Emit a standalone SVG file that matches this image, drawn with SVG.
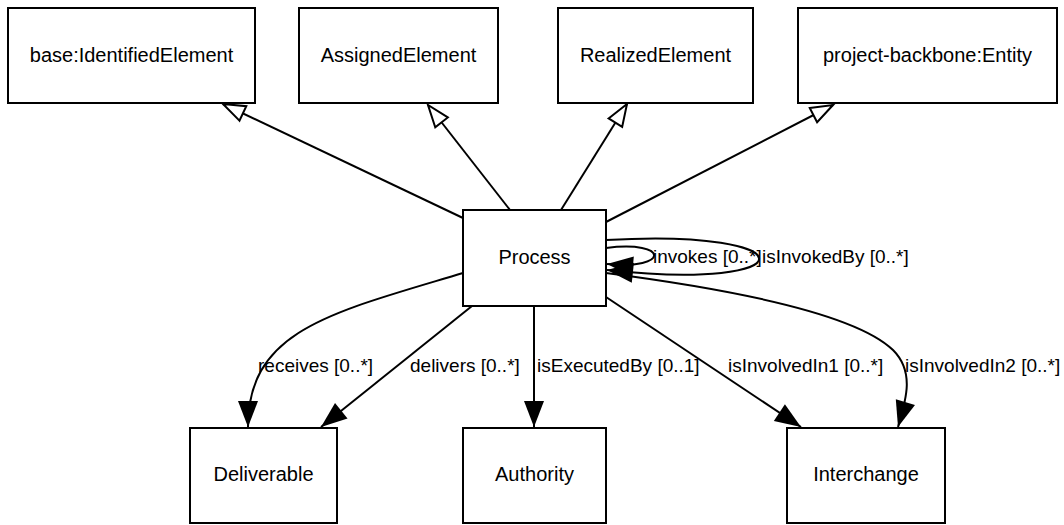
<svg xmlns="http://www.w3.org/2000/svg" width="1064" height="525" viewBox="0 0 1064 525">
<style>
.box{fill:#fff;stroke:#000;stroke-width:2}
.t{font-family:"Liberation Sans",Arial,sans-serif;font-size:19px;fill:#000}
.n{font-size:20px;text-anchor:middle}
.e{fill:none;stroke:#000;stroke-width:2}
.g{marker-end:url(#hollow)}
.a{marker-end:url(#filled)}
</style>
<defs>
<marker id="hollow" markerUnits="userSpaceOnUse" markerWidth="26" markerHeight="20" refX="23" refY="9" orient="auto" overflow="visible">
<path d="M1,1 L23,9 L1,17 Z" fill="#fff" stroke="#000" stroke-width="2"/>
</marker>
<marker id="filled" markerUnits="userSpaceOnUse" markerWidth="28" markerHeight="22" refX="26" refY="10" orient="auto" overflow="visible">
<path d="M0,0 L26,10 L0,20 Z" fill="#000"/>
</marker>
</defs>
<rect width="1064" height="525" fill="#fff"/>
<g id="connectors">
<path class="e g" d="M463,218 L223,104"/>
<path class="e g" d="M510,210 L428,105"/>
<path class="e g" d="M561,210 L627,104"/>
<path class="e g" d="M606,222 L833,105"/>
<path class="e a" d="M606,248 C 670,240 670,270 607,264"/>
<path class="e a" d="M606,240 C 810,228 810,292 607,270"/>
<path class="e a" d="M463,273 C 330,313 248,330 248,427"/>
<path class="e a" d="M472,306 L321,427"/>
<path class="e a" d="M534,306 L534,427"/>
<path class="e a" d="M606,297 L801,427"/>
<path class="e a" d="M606,273 C 760,293 860,318 893,350 C 915,372 906,400 898,427"/>
<text class="t" x="653" y="263">invokes [0..*]</text>
<text class="t" x="762" y="263">isInvokedBy [0..*]</text>
<text class="t" x="258" y="372">receives [0..*]</text>
<text class="t" x="410" y="372">delivers [0..*]</text>
<text class="t" x="537" y="372">isExecutedBy [0..1]</text>
<text class="t" x="728" y="372">isInvolvedIn1 [0..*]</text>
<text class="t" x="905" y="372">isInvolvedIn2 [0..*]</text>
</g>
<g id="base-IdentifiedElement">
<rect class="box" x="8" y="8" width="247" height="95"/>
<text class="t n" x="131.5" y="62">base:IdentifiedElement</text>
</g>
<g id="AssignedElement">
<rect class="box" x="299" y="8" width="199" height="95"/>
<text class="t n" x="398.5" y="62">AssignedElement</text>
</g>
<g id="RealizedElement">
<rect class="box" x="558" y="8" width="195" height="95"/>
<text class="t n" x="655.5" y="62">RealizedElement</text>
</g>
<g id="project-backbone-Entity">
<rect class="box" x="798" y="8" width="259" height="95"/>
<text class="t n" x="927.5" y="62">project-backbone:Entity</text>
</g>
<g id="Process">
<rect class="box" x="463" y="210" width="143" height="96"/>
<text class="t n" x="534.5" y="264">Process</text>
</g>
<g id="Deliverable">
<rect class="box" x="190" y="428" width="147" height="95"/>
<text class="t n" x="263.5" y="481">Deliverable</text>
</g>
<g id="Authority">
<rect class="box" x="463" y="428" width="143" height="95"/>
<text class="t n" x="534.5" y="481">Authority</text>
</g>
<g id="Interchange">
<rect class="box" x="787" y="428" width="158" height="95"/>
<text class="t n" x="866" y="481">Interchange</text>
</g>
</svg>
